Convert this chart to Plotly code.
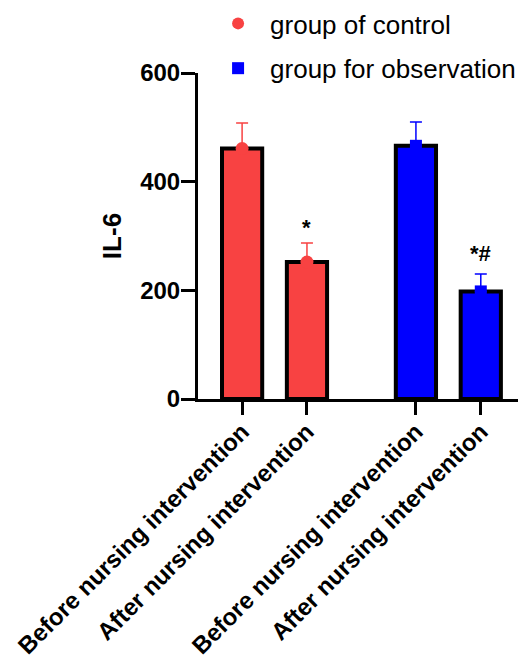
import plotly.graph_objects as go

categories = ["Before nursing intervention", "After nursing intervention",
              "Before nursing intervention", "After nursing intervention"]
positions = [0, 1, 2.68, 3.68]
control_vals = [461, 252]
control_err = [47, 35]
obs_vals = [466, 198]
obs_err = [44, 32]
sig_labels = ["*", "*#"]
sig_y = [316, 267]
y_ticks = [0, 200, 400, 600]

RED = "#F84242"
BLUE = "#0000FF"
FONT = "Liberation Sans, Arial, sans-serif"

fig = go.Figure()
fig.add_trace(go.Bar(x=positions[:2], y=control_vals, width=0.62, marker=dict(color=RED, line=dict(color="black", width=4)), showlegend=False))
fig.add_trace(go.Bar(x=positions[2:], y=obs_vals, width=0.62, marker=dict(color=BLUE, line=dict(color="black", width=4)), showlegend=False))
fig.add_trace(go.Scatter(x=positions[:2], y=control_vals, mode="markers", name="group of control", legendgroup="a",
                         marker=dict(symbol="circle", size=13, color=RED),
                         error_y=dict(type="data", array=control_err, arrayminus=[0, 0], symmetric=False, color=RED, thickness=1.5, width=6)))
fig.add_trace(go.Scatter(x=positions[2:], y=obs_vals, mode="markers", name="group for observation", legendgroup="b",
                         marker=dict(symbol="square", size=12, color=BLUE),
                         error_y=dict(type="data", array=obs_err, arrayminus=[0, 0], symmetric=False, color=BLUE, thickness=1.5, width=6)))

for xp, lab, yv in zip([positions[1], positions[3]], sig_labels, sig_y):
    fig.add_annotation(x=xp, y=yv, text="<b>%s</b>" % lab, showarrow=False, font=dict(size=22, color="black", family=FONT), yanchor="middle")

fig.update_layout(
    width=518, height=652,
    margin=dict(l=190, r=5, t=65, b=261, autoexpand=False),
    plot_bgcolor="white", paper_bgcolor="white",
    font=dict(family=FONT, color="black"),
    barmode="overlay",
    legend=dict(x=0.025, y=1.224, xanchor="left", yanchor="top", font=dict(size=26, family=FONT), tracegroupgap=8,
                itemsizing="constant", itemwidth=54, bgcolor="rgba(0,0,0,0)"),
    xaxis=dict(range=[-0.68, 4.3], tickvals=positions, ticktext=["<b>%s</b>" % c for c in categories], tickangle=-45,
               showline=True, linecolor="black", linewidth=3, ticks="outside", ticklen=13, tickwidth=3, tickcolor="black",
               tickfont=dict(size=24, family=FONT), showgrid=False, zeroline=False, automargin=False, ticklabelstandoff=-7),
    yaxis=dict(range=[0, 600], tickvals=y_ticks, ticktext=["<b>%d</b>" % v for v in y_ticks],
               showline=True, linecolor="black", linewidth=3, ticks="outside", ticklen=14, tickwidth=3, tickcolor="black",
               tickfont=dict(size=24, family=FONT), showgrid=False, zeroline=False, automargin=False, ticklabelstandoff=-4,
               title=dict(text="<b>IL-6</b>", font=dict(size=26, family=FONT), standoff=12)),
)
fig.write_html("out.html")
